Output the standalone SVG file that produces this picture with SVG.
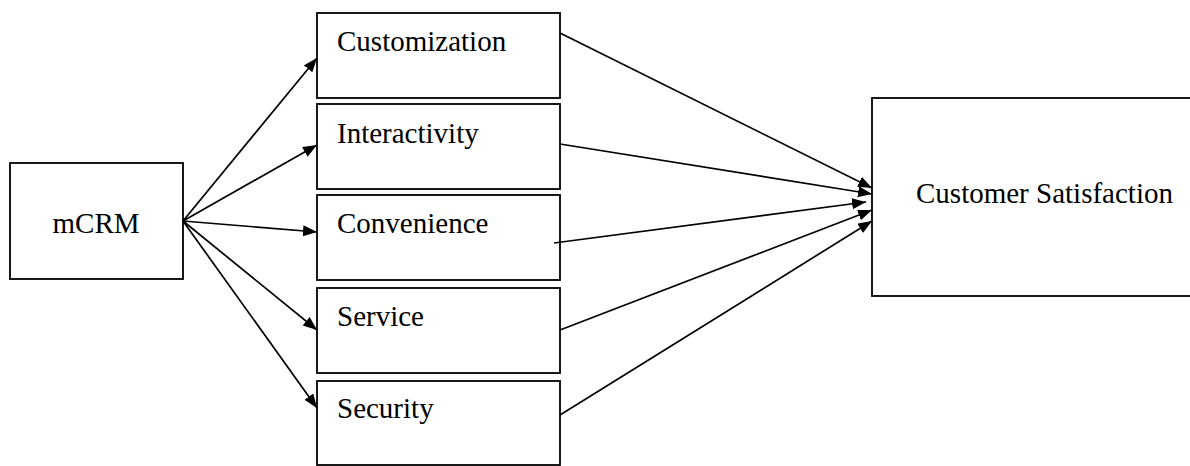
<svg xmlns="http://www.w3.org/2000/svg" width="1190" height="466" viewBox="0 0 1190 466">
<style>
.box{fill:#fff;stroke:#000;stroke-width:1.8}
.lbl{font-family:"Liberation Serif","Times New Roman",serif;font-size:29px;fill:#000}
.conn{stroke:#000;stroke-width:1.7;fill:none;marker-end:url(#ah)}
</style>
<defs>
<marker id="ah" markerUnits="userSpaceOnUse" markerWidth="15" markerHeight="12" refX="14" refY="5.5" orient="auto">
<path d="M0,0 L14,5.5 L0,11 z" fill="#000"/>
</marker>
</defs>
<rect width="1190" height="466" fill="#fff"/>
<g id="mcrm"><rect class="box" x="10" y="163" width="173" height="116"/><text class="lbl" x="96" y="233" text-anchor="middle">mCRM</text></g>
<g id="customization"><rect class="box" x="317" y="13" width="243" height="85"/><text class="lbl" x="337" y="51">Customization</text></g>
<g id="interactivity"><rect class="box" x="317" y="104" width="243" height="85"/><text class="lbl" x="337" y="143">Interactivity</text></g>
<g id="convenience"><rect class="box" x="317" y="195" width="243" height="85"/><text class="lbl" x="337" y="233">Convenience</text></g>
<g id="service"><rect class="box" x="317" y="288" width="243" height="85"/><text class="lbl" x="337" y="326">Service</text></g>
<g id="security"><rect class="box" x="317" y="381" width="243" height="84"/><text class="lbl" x="337" y="418">Security</text></g>
<g id="satisfaction"><rect class="box" x="872" y="98" width="330" height="198"/><text class="lbl" x="916" y="203">Customer Satisfaction</text></g>
<g id="connectors">
<line class="conn" x1="183" y1="221" x2="317" y2="58"/>
<line class="conn" x1="183" y1="221" x2="317" y2="145"/>
<line class="conn" x1="183" y1="221" x2="317" y2="232"/>
<line class="conn" x1="183" y1="221" x2="317" y2="330"/>
<line class="conn" x1="183" y1="221" x2="317" y2="408"/>
<line class="conn" x1="560" y1="33" x2="872" y2="188"/>
<line class="conn" x1="560" y1="144" x2="872" y2="194"/>
<line class="conn" x1="554" y1="243" x2="866" y2="202"/>
<line class="conn" x1="560" y1="330" x2="872" y2="210"/>
<line class="conn" x1="560" y1="415" x2="872" y2="221"/>
</g>
</svg>
